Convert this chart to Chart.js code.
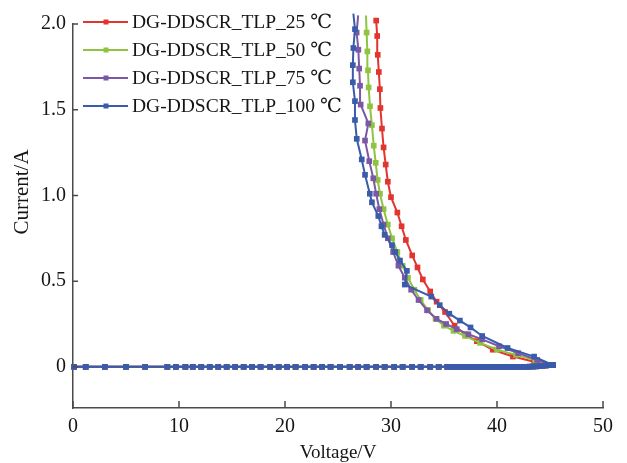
<!DOCTYPE html>
<html>
<head>
<meta charset="utf-8">
<script src="https://cdn.jsdelivr.net/npm/chart.js@4.4.0/dist/chart.umd.min.js"></script>
<style>
  html, body { margin: 0; padding: 0; background: #fff; }
  #wrap { width: 627px; height: 463px; position: relative; }
</style>
</head>
<body>
<div id="wrap"><canvas id="tlp-chart"></canvas></div>
<script>
// TLP I-V curves of DG-DDSCR at four temperatures

const seriesNames = ['DG-DDSCR_TLP_25 \u2103', 'DG-DDSCR_TLP_50 \u2103', 'DG-DDSCR_TLP_75 \u2103', 'DG-DDSCR_TLP_100 \u2103'];
const seriesColors = ['#e2352f', '#8ec43f', '#7b58a6', '#3a5aaa'];

const xTicks = [0, 10, 20, 30, 40, 50];
const yTicks = [0, 0.5, 1.0, 1.5, 2.0];

// off-state sweep, the four curves lie on top of each other here
const offVoltage = [0.1, 1.2, 3.0, 5.0, 6.8, 8.9, 9.7, 10.6, 11.3, 12.1, 12.9, 13.7, 14.5, 15.3, 16.1, 16.9,
  17.7, 18.6, 19.4, 20.2, 21.0, 21.9, 22.7, 23.5, 24.3, 25.2, 26.1, 26.9, 27.7, 28.6, 29.4, 30.3, 31.1,
  32.0, 32.8, 33.7, 34.5, 35.3, 35.6, 35.9, 36.2, 36.5, 36.8, 37.1, 37.4, 37.7, 38.0, 38.3, 38.6, 38.9,
  39.2, 39.5, 39.8, 40.1, 40.4, 40.7, 41.0, 41.3, 41.6, 41.9, 42.2, 42.5, 42.8, 43.1, 43.4, 43.7, 44.0,
  44.3, 44.6, 44.9, 45.2];
const offCurrent = [0, 0, 0, 0, 0, 0, 0, 0, 0, 0, 0, 0, 0, 0, 0, 0,
  0, 0, 0, 0, 0, 0, 0, 0, 0, 0, 0, 0, 0, 0, 0, 0, 0,
  0, 0, 0, 0, 0, 0, 0, 0, 0, 0, 0, 0, 0, 0, 0, 0, 0,
  0, 0, 0, 0, 0, 0, 0, 0, 0, 0, 0, 0, 0, 0.001, 0.002, 0.003, 0.004,
  0.006, 0.008, 0.010, 0.012];

// snapback branch, from trigger point up to 2 A
const onVoltage25 = [45.3, 43.5, 41.5, 39.6, 38.1, 37.0, 36.0, 35.1, 34.3, 33.7, 33.0, 32.5, 32.0, 31.4,
  31.0, 30.6, 30.0, 29.7, 29.5, 29.3, 29.15, 29.0, 28.95, 28.85, 28.75, 28.7, 28.6];
const onCurrent25 = [0.01, 0.03, 0.06, 0.10, 0.15, 0.19, 0.24, 0.32, 0.38, 0.44, 0.51, 0.58, 0.65, 0.74,
  0.82, 0.90, 0.99, 1.08, 1.18, 1.28, 1.39, 1.51, 1.62, 1.72, 1.82, 1.93, 2.02];

const onVoltage50 = [45.2, 43.6, 41.8, 40.0, 38.4, 37.0, 35.9, 35.0, 34.2, 33.5, 32.8, 32.2, 31.6, 31.1,
  30.6, 30.1, 29.7, 29.3, 28.96, 28.74, 28.56, 28.37, 28.2, 28.02, 27.89, 27.83, 27.77, 27.7, 27.64];
const onCurrent50 = [0.01, 0.04, 0.07, 0.10, 0.14, 0.18, 0.21, 0.24, 0.28, 0.33, 0.39, 0.45, 0.52, 0.59,
  0.67, 0.75, 0.83, 0.92, 1.01, 1.09, 1.19, 1.29, 1.41, 1.52, 1.63, 1.73, 1.84, 1.95, 2.05];

const onVoltage75 = [45.3, 43.8, 42.0, 40.2, 38.6, 37.3, 36.2, 35.2, 34.3, 33.4, 32.6, 31.9, 31.3, 30.7,
  30.2, 29.7, 29.3, 28.9, 28.6, 28.33, 27.95, 27.55, 27.86, 27.14, 27.08, 27.0, 26.92, 26.76, 26.9];
const onCurrent75 = [0.01, 0.04, 0.08, 0.12, 0.16, 0.19, 0.22, 0.25, 0.28, 0.33, 0.39, 0.45, 0.52, 0.59,
  0.67, 0.75, 0.83, 0.92, 1.01, 1.10, 1.20, 1.32, 1.42, 1.53, 1.64, 1.74, 1.85, 1.95, 2.05];

const onVoltage100 = [45.3, 43.5, 41.0, 38.6, 37.5, 36.5, 35.5, 34.6, 33.8, 31.3, 31.5, 30.85, 30.4, 30.1,
  29.4, 29.1, 28.8, 28.2, 28.0, 27.55, 27.24, 26.77, 26.6, 26.6, 26.4, 26.4, 26.45, 26.6, 26.45];
const onCurrent100 = [0.01, 0.06, 0.11, 0.18, 0.23, 0.27, 0.31, 0.36, 0.41, 0.48, 0.56, 0.62, 0.67, 0.71,
  0.77, 0.82, 0.88, 0.96, 1.01, 1.12, 1.21, 1.33, 1.44, 1.55, 1.66, 1.76, 1.86, 1.97, 2.06];

const onVoltages = [onVoltage25, onVoltage50, onVoltage75, onVoltage100];
const onCurrents = [onCurrent25, onCurrent50, onCurrent75, onCurrent100];

const serif = "'Liberation Serif', 'Times New Roman', 'DejaVu Serif', serif";
const textColor = '#151515';
const axisColor = '#4a4a4a';

function toPoints(vs, is) {
  return vs.map((v, i) => ({ x: v, y: is[i] }));
}

const datasets = seriesNames.map((name, k) => ({
  label: name,
  data: toPoints(offVoltage, offCurrent).concat(toPoints(onVoltages[k], onCurrents[k])),
  showLine: true,
  borderColor: seriesColors[k],
  backgroundColor: seriesColors[k],
  borderWidth: 2,
  pointStyle: 'rect',
  pointRadius: 4,
  pointBorderWidth: 0,
  clip: false,
  order: 3 - k // blue ends up on top
}));

// inward tick marks, rotated y title and the in-plot legend
const decor = {
  id: 'decor',
  afterDraw(chart) {
    const { ctx, chartArea, scales } = chart;
    const x = scales.x, y = scales.y;
    ctx.save();
    ctx.strokeStyle = axisColor;
    ctx.lineWidth = 1.5;
    ctx.beginPath();
    xTicks.forEach(v => {
      const px = x.getPixelForValue(v);
      ctx.moveTo(px, chartArea.bottom);
      ctx.lineTo(px, chartArea.bottom - 7);
    });
    yTicks.forEach(v => {
      const py = y.getPixelForValue(v);
      ctx.moveTo(chartArea.left, py);
      ctx.lineTo(chartArea.left + 5, py);
    });
    ctx.stroke();

    ctx.fillStyle = textColor;
    ctx.font = '21px ' + serif;
    ctx.textAlign = 'center';
    ctx.textBaseline = 'middle';
    ctx.translate(22, 192);
    ctx.rotate(-Math.PI / 2);
    ctx.fillText('Current/A', 0, 0);
    ctx.restore();

    ctx.save();
    ctx.font = '19.5px ' + serif;
    ctx.textAlign = 'left';
    ctx.textBaseline = 'middle';
    seriesNames.forEach((name, k) => {
      const ly = 22 + k * 28;
      ctx.strokeStyle = seriesColors[k];
      ctx.lineWidth = 1.8;
      ctx.beginPath();
      ctx.moveTo(83, ly);
      ctx.lineTo(128, ly);
      ctx.stroke();
      ctx.fillStyle = seriesColors[k];
      ctx.fillRect(103.5, ly - 2.5, 5, 5);
      ctx.fillStyle = textColor;
      ctx.fillText(name, 132, ly + 1);
    });
    ctx.restore();
  }
};

new Chart(document.getElementById('tlp-chart'), {
  type: 'scatter',
  data: { datasets },
  options: {
    responsive: true,
    maintainAspectRatio: false,
    animation: false,
    layout: { padding: { top: 24, right: 24, left: 0, bottom: 0 } },
    plugins: {
      legend: { display: false },
      tooltip: { enabled: false }
    },
    scales: {
      x: {
        type: 'linear',
        min: 0,
        max: 50,
        afterFit: s => { s.height = 55; },
        afterBuildTicks: s => { s.ticks = xTicks.map(v => ({ value: v })); },
        grid: { display: false, drawTicks: false },
        border: { display: true, color: axisColor, width: 1.5 },
        ticks: {
          padding: 7,
          color: textColor,
          font: { family: serif, size: 20 },
          callback: v => String(v)
        },
        title: {
          display: true,
          text: 'Voltage/V',
          color: textColor,
          font: { family: serif, size: 19, lineHeight: 1.1 },
          padding: { top: 0, bottom: 0 }
        }
      },
      y: {
        type: 'linear',
        min: -0.24,
        max: 2.0,
        afterFit: s => { s.width = 73; },
        afterBuildTicks: s => { s.ticks = yTicks.map(v => ({ value: v })); },
        grid: { display: false, drawTicks: false },
        border: { display: true, color: axisColor, width: 1.5 },
        ticks: {
          padding: 7,
          color: textColor,
          font: { family: serif, size: 20 },
          callback: v => (v === 0 ? '0' : v.toFixed(1))
        }
      }
    }
  },
  plugins: [decor]
});
</script>
</body>
</html>
